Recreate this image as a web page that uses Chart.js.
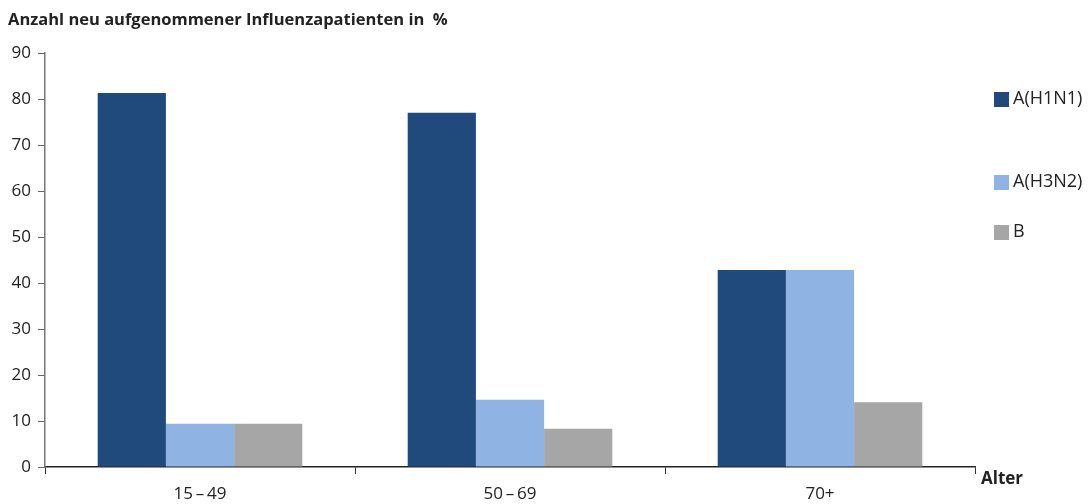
<!DOCTYPE html>
<html><head><meta charset="utf-8">
<script src="https://cdn.jsdelivr.net/npm/chart.js@4/dist/chart.umd.min.js"></script>
<style>html,body{margin:0;padding:0;background:#fff;}#wrap{position:relative;width:1091px;height:504px;}</style>
</head><body><div id="wrap"><canvas id="c" width="1091" height="504"></canvas></div>
<script>
const categories = ["15\u2009\u2013\u200949", "50\u2009\u2013\u200969", "70+"];
const seriesNames = ["A(H1N1)", "A(H3N2)", "B"];
const h1n1 = [81.3, 77.0, 42.8];
const h3n2 = [9.4, 14.6, 42.8];
const bVals = [9.4, 8.3, 14.1];
const yTicks = [0, 10, 20, 30, 40, 50, 60, 70, 80, 90];
const titleText = "Anzahl neu aufgenommener Influenzapatienten in  %";
const xAxisTitle = "Alter";
const colors = ["#204a7c", "#8fb3e2", "#a6a6a6"];
const legendY = [99, 182, 232];

const FONT = "'Open Sans', 'DejaVu Sans', sans-serif";

const extras = {
  id: 'extras',
  afterDraw(chart) {
    const ctx = chart.ctx;
    const ca = chart.chartArea;
    ctx.save();
    ctx.fillStyle = '#222';
    ctx.textBaseline = 'middle';
    ctx.textAlign = 'left';
    ctx.font = "bold 16.5px " + FONT;
    ctx.fillText(titleText, 8, 20);
    ctx.font = "bold 17px " + FONT;
    ctx.fillText(xAxisTitle, ca.right + 6, ca.bottom + 12);
    ctx.font = "18px " + FONT;
    chart.data.datasets.forEach((ds, i) => {
      const y = legendY[i];
      ctx.fillStyle = ds.backgroundColor;
      ctx.fillRect(994, y - 7, 15, 15);
      ctx.fillStyle = '#222';
      ctx.fillText(ds.label, 1013, y);
    });
    ctx.restore();
  }
};

new Chart(document.getElementById('c'), {
  type: 'bar',
  data: {
    labels: categories,
    datasets: [
      { label: seriesNames[0], data: h1n1, backgroundColor: colors[0] },
      { label: seriesNames[1], data: h3n2, backgroundColor: colors[1] },
      { label: seriesNames[2], data: bVals, backgroundColor: colors[2] }
    ].map(d => Object.assign(d, { borderWidth: 0, barPercentage: 1.0, categoryPercentage: 0.66 }))
  },
  options: {
    responsive: false,
    animation: false,
    layout: { padding: { top: 53, right: 116, left: 0, bottom: 0 } },
    plugins: { legend: { display: false }, title: { display: false }, tooltip: { enabled: false } },
    scales: {
      x: {
        offset: true,
        grid: { offset: true, drawOnChartArea: false, drawTicks: true, tickLength: 7, color: '#333', lineWidth: 1 },
        border: { color: '#222', width: 1.5 },
        ticks: { color: '#222', font: { family: FONT, size: 17 }, padding: 10, maxRotation: 0 },
        afterFit(s) { s.height = 37; }
      },
      y: {
        min: 0, max: 90,
        afterBuildTicks(s) { s.ticks = yTicks.map(v => ({ value: v })); },
        grid: { drawOnChartArea: false, drawTicks: true, tickLength: 7, color: '#666', lineWidth: 1 },
        border: { color: '#777', width: 1.5 },
        ticks: { color: '#222', font: { family: FONT, size: 17 }, padding: 7 },
        afterFit(s) { s.width = 45; }
      }
    }
  },
  plugins: [extras]
});
</script></body></html>
